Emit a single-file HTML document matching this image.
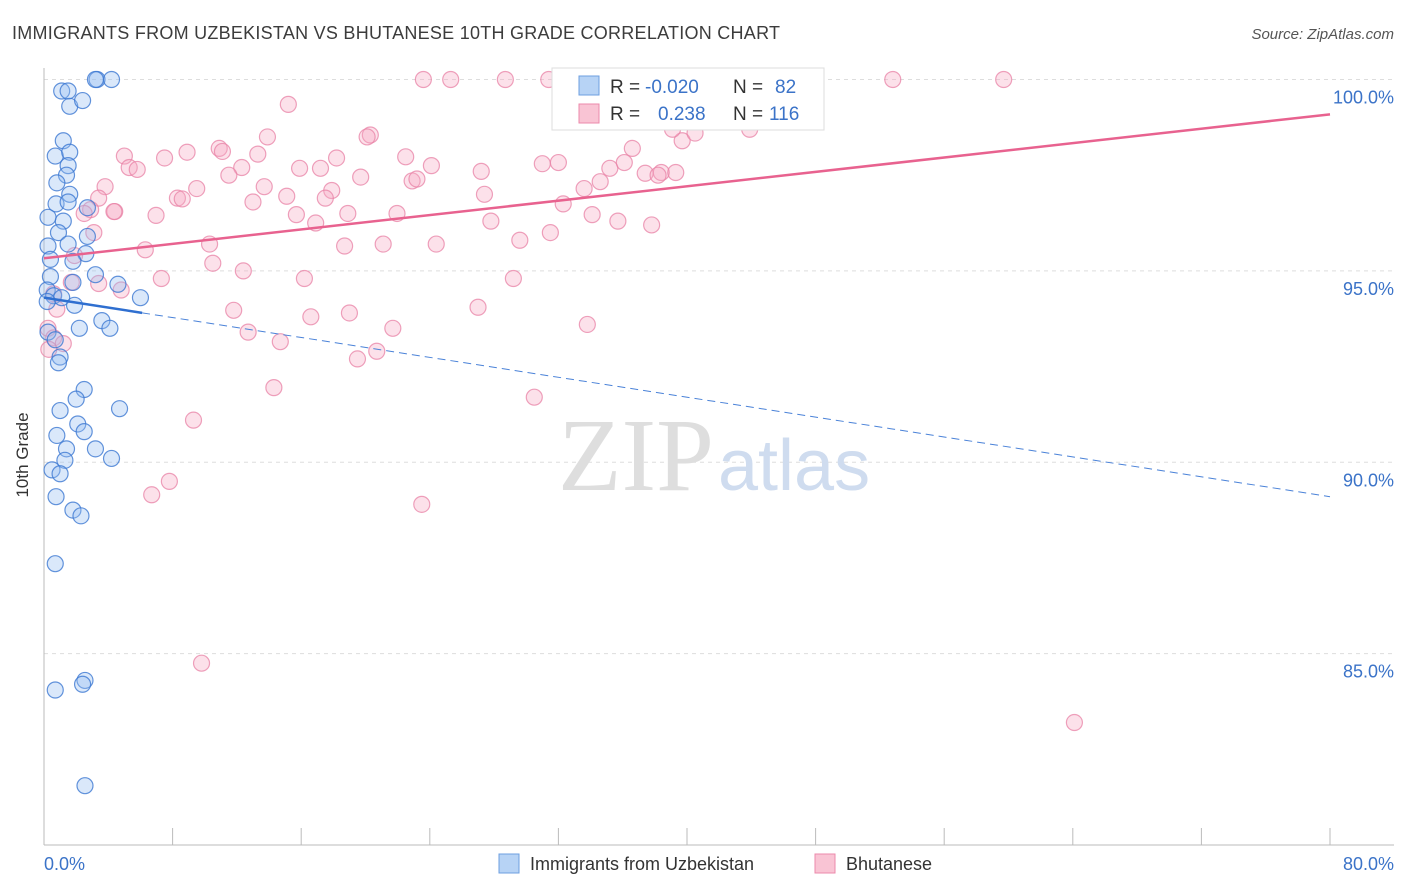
<!DOCTYPE html>
<html><head><meta charset="utf-8">
<style>
body{margin:0;background:#fff;font-family:"Liberation Sans",sans-serif;}
svg{display:block}
</style></head>
<body>
<svg id="chart" width="1406" height="892">
<text x="12" y="39" font-size="18" fill="#3c3c3c" textLength="768">IMMIGRANTS FROM UZBEKISTAN VS BHUTANESE 10TH GRADE CORRELATION CHART</text>
<text x="1394" y="39" font-size="15" fill="#555" text-anchor="end" font-style="italic">Source: ZipAtlas.com</text>
<g id="grid"></g>
<text x="714" y="490" font-size="104" fill="#dedede" text-anchor="end" font-family="Liberation Serif">ZIP</text>
<text x="718" y="490" font-size="72" fill="#cfdcef">atlas</text>
<g id="pts"></g>
<g id="trend"></g>
<text x="28" y="455" font-size="17" fill="#333" text-anchor="middle" transform="rotate(-90 28 455)">10th Grade</text>
<text x="44" y="870" font-size="18" fill="#3b73c8">0.0%</text>
<text x="1394" y="870" font-size="18" fill="#3b73c8" text-anchor="end">80.0%</text>
<g>
<rect x="552" y="68" width="272" height="62" fill="#fff" stroke="#ddd"/>
<rect x="579" y="76" width="20" height="19" fill="#b7d3f5" stroke="#6d9fe0"/>
<rect x="579" y="104" width="20" height="19" fill="#f9c4d4" stroke="#ec8aab"/>
<text x="610" y="93" font-size="19" fill="#333">R = </text><text x="645" y="93" font-size="19" fill="#3b73c8">-0.020</text>
<text x="733" y="93" font-size="19" fill="#333">N = </text><text x="775" y="93" font-size="19" fill="#3b73c8">82</text>
<text x="610" y="120" font-size="19" fill="#333">R = </text><text x="658" y="120" font-size="19" fill="#3b73c8">0.238</text>
<text x="733" y="120" font-size="19" fill="#333">N = </text><text x="769" y="120" font-size="19" fill="#3b73c8">116</text>
</g>
<g>
<rect x="499" y="854" width="20" height="19" fill="#b7d3f5" stroke="#6d9fe0"/>
<text x="530" y="870" font-size="18" fill="#333">Immigrants from Uzbekistan</text>
<rect x="815" y="854" width="20" height="19" fill="#f9c4d4" stroke="#ec8aab"/>
<text x="846" y="870" font-size="18" fill="#333">Bhutanese</text>
</g>
</svg>
<script>
const yTicks=[100,95,90,85];
const yTickLabels=["100.0%","95.0%","90.0%","85.0%"];
const xTicks=[0,8,16,24,32,40,48,56,64,72,80];
const blueX=[3.3,4.2,3.2,1.1,1.5,1.6,2.4,1.2,0.7,1.6,1.5,1.4,0.8,1.6,0.75,1.5,2.7,1.2,0.25,0.9,2.7,1.5,0.25,2.6,1.8,0.4,3.2,0.4,1.8,4.6,0.2,0.6,6.0,1.1,1.9,0.2,3.6,4.1,2.2,0.25,0.7,1.0,0.9,2.5,2.0,4.7,1.0,2.1,0.8,2.5,3.2,1.4,4.2,1.3,0.5,1.0,0.75,1.8,2.3,0.7,0.7,2.55,2.4,2.55];
const blueY=[100,100,100,99.7,99.7,99.3,99.45,98.4,98.0,98.1,97.75,97.5,97.3,97.0,96.75,96.8,96.65,96.3,96.4,96.0,95.9,95.7,95.65,95.45,95.25,95.3,94.9,94.85,94.7,94.65,94.5,94.35,94.3,94.3,94.1,94.2,93.7,93.5,93.5,93.4,93.2,92.75,92.6,91.9,91.65,91.4,91.35,91.0,90.7,90.8,90.35,90.35,90.1,90.05,89.8,89.7,89.1,88.75,88.6,87.35,84.05,84.3,84.2,81.55];
const pinkX=[23.6,25.3,28.7,31.4,43.1,44.9,52.8,59.7,15.2,32.5,43.3,13.9,20.3,20.1,39.7,39.1,40.5,43.9,36.6,10.9,11.1,8.9,5.0,13.3,18.2,22.5,7.5,5.3,5.8,12.3,15.9,17.2,24.1,31.0,32.0,35.2,36.1,27.2,37.4,38.4,39.3,38.2,11.5,19.7,22.9,23.2,34.6,3.8,9.5,13.7,17.9,33.6,15.1,17.5,8.3,8.6,27.4,3.4,13.0,4.4,2.9,6.97,15.7,18.9,21.96,32.3,34.1,27.8,16.9,35.7,37.8,3.1,31.5,29.6,10.3,18.7,21.1,24.4,6.3,1.9,10.5,12.4,7.3,16.2,29.2,3.4,4.8,1.7,0.6,0.8,11.8,27.0,19.0,16.6,33.8,21.7,12.7,0.25,0.6,14.7,1.2,0.3,20.7,19.5,14.3,30.5,9.3,7.8,6.7,23.5,9.8,64.1,2.5,4.35];
const pinkY=[100,100,100,100,100,100,100,100,99.35,99.25,99.25,98.5,98.55,98.5,98.4,98.7,98.6,98.7,98.2,98.2,98.12,98.1,98.0,98.05,97.95,97.98,97.95,97.7,97.65,97.7,97.68,97.68,97.75,97.8,97.83,97.68,97.83,97.6,97.55,97.57,97.57,97.5,97.5,97.45,97.35,97.4,97.33,97.2,97.15,97.2,97.1,97.15,96.95,96.9,96.9,96.88,97.0,96.9,96.8,96.55,96.6,96.45,96.47,96.5,96.5,96.75,96.47,96.3,96.25,96.3,96.2,96.0,96.0,95.8,95.7,95.65,95.7,95.7,95.55,95.4,95.2,95.0,94.8,94.8,94.8,94.67,94.5,94.7,94.4,94.0,93.97,94.05,93.9,93.8,93.6,93.5,93.4,93.5,93.25,93.15,93.1,92.95,92.9,92.7,91.95,91.7,91.1,89.5,89.15,88.9,84.75,83.2,96.5,96.55];
const blueTrend=[94.3,-0.065];
const pinkTrend=[95.33,0.047];
const blueSolidEnd=6.1;
const X0=44,X1=1330,YT=79.5,YB=845;
function xs(v){return X0+(v/80)*(X1-X0);}
function ys(v){return YT+(100-v)/20*(YB-YT);}
const NS="http://www.w3.org/2000/svg";
function mk(t,a,p){const e=document.createElementNS(NS,t);for(const k in a)e.setAttribute(k,a[k]);p.appendChild(e);return e;}
const grid=document.getElementById('grid');
yTicks.forEach((t,i)=>{
 const l=mk('line',{x1:X0,x2:1394,y1:ys(t),y2:ys(t),stroke:'#ddd','stroke-dasharray':'4,4'},grid);
 
 
 const tx=mk('text',{x:1394,y:ys(t)+24,'font-size':18,fill:'#3b73c8','text-anchor':'end'},grid);
 tx.textContent=yTickLabels[i];
 
 
});
const ax=mk('line',{x1:X0,x2:X0,y1:68,y2:YB,stroke:'#bbb'},grid);


const bx=mk('line',{x1:X0,x2:1394,y1:YB,y2:YB,stroke:'#bbb'},grid);


xTicks.forEach(t=>{
 const l=mk('line',{x1:xs(t),x2:xs(t),y1:YB,y2:YB-17,stroke:'#bbb'},grid);
 
 
});
const pts=document.getElementById('pts');
pinkX.forEach((x,i)=>{
 const c=mk('circle',{cx:xs(x),cy:ys(pinkY[i]),r:8,fill:'rgba(246,170,195,0.35)',stroke:'rgba(232,130,165,0.75)','stroke-width':1.2},pts);
 
 
});
blueX.forEach((x,i)=>{
 const c=mk('circle',{cx:xs(x),cy:ys(blueY[i]),r:8,fill:'rgba(150,190,240,0.35)',stroke:'rgba(60,120,210,0.8)','stroke-width':1.2},pts);
 
 
});
const tr=document.getElementById('trend');
const pl=mk('line',{x1:xs(0),y1:ys(pinkTrend[0]),x2:xs(80),y2:ys(pinkTrend[0]+pinkTrend[1]*80),stroke:'#e8628f','stroke-width':2.5},tr);


const bl=mk('line',{x1:xs(0),y1:ys(blueTrend[0]),x2:xs(blueSolidEnd),y2:ys(blueTrend[0]+blueTrend[1]*blueSolidEnd),stroke:'#2f6fd0','stroke-width':2.5},tr);


const bd=mk('line',{x1:xs(blueSolidEnd),y1:ys(blueTrend[0]+blueTrend[1]*blueSolidEnd),x2:xs(80),y2:ys(blueTrend[0]+blueTrend[1]*80),stroke:'#4a82d8','stroke-width':1,'stroke-dasharray':'8,5'},tr);


</script>
</body></html>
